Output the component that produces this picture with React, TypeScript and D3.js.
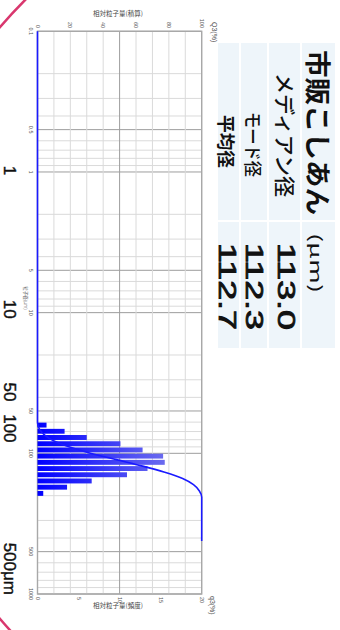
import * as d3 from 'd3'

// particle size axis (log)
const sizeTicks = [0.1, 0.5, 1, 5, 10, 50, 100, 500, 1000]
const sizeLabels = ['0.1', '0.5', '1', '5', '10', '50', '100', '500', '1000']
const cumTicks = [0, 20, 40, 60, 80, 100]
const freqTicks = [0, 5, 10, 15, 20]

// histogram bins (µm) and frequency q3 (%)
const binEdges = [60.5, 67.0, 74.1, 82.1, 90.9, 100.6, 111.3, 123.3, 136.4, 151.0, 167.2, 185.1, 204.9]
const freq = [1.1, 3.3, 6.0, 10.1, 12.8, 15.3, 15.5, 13.4, 10.9, 6.6, 3.6, 0.7]

// cumulative Q3 (%)
const cumSizes = [0.1, 60.5, 67.0, 74.1, 82.1, 90.9, 100.6, 111.3, 123.3, 136.4, 151.0, 167.2, 185.1, 204.9, 420]
const cumValues = [0, 0, 1.1, 4.4, 10.4, 20.5, 33.3, 48.6, 64.1, 77.5, 88.4, 95.0, 98.6, 100, 100]

// big hand labels under the size axis
const bigLabels = ['1', '10', '50', '100', '500μm']
const bigLabelAt = [1, 10, 50, 100, 500]

// result table
const tableTitle = '市販こしあん'
const tableUnit = '(μm)'
const tableRows = ['メディアン径', 'モード径', '平均径']
const tableValues = ['113.0', '112.3', '112.7']

const W = 630 // landscape frame, rotated onto the 340x630 page
const H = 340

export default function App() {
  const x = d3.scaleLog().domain([0.1, 1000]).range([31.3, 594])
  const yCum = d3.scaleLinear().domain([0, 100]).range([302.5, 138.3])
  const yFreq = d3.scaleLinear().domain([0, 20]).range([302.5, 138.3])

  const minor: number[] = []
  for (let e = -1; e < 3; e++) for (let m = 1; m < 10; m++) minor.push(m * Math.pow(10, e))
  minor.push(1000)

  const line = d3
    .line<number>()
    .x((_, i) => x(cumSizes[i]))
    .y((d) => yCum(d))
    .curve(d3.curveMonotoneX)

  const [x0, x1] = x.range()
  const [yb, yt] = yCum.range()
  const bigDx = [-1.5, -3.5, -19, -25, 0]

  const font = 'Liberation Sans, Arial, sans-serif'
  const jp = '"Noto Sans CJK JP", sans-serif'

  // table geometry (landscape frame)
  const rowBands = [
    [5, 38],
    [40, 71],
    [73, 99],
    [101, 122],
  ]
  const colA = [43, 220]
  const colB = [222, 348]

  return (
    <svg width={340} height={630} style={{ position: 'fixed', left: 0, top: 0, background: '#fff' }}>
      <defs>
        <linearGradient id="barFill" gradientUnits="userSpaceOnUse" x1={0} y1={yb} x2={0} y2={yt}>
          <stop offset="0%" stopColor="#0000ff" />
          <stop offset="100%" stopColor="#8a8aea" />
        </linearGradient>
      </defs>

      {/* pink outline */}
      <circle cx={347} cy={323} r={456} fill="none" stroke="#d9376e" strokeWidth={2.5} />

      {/* axis titles, upright on the page */}
      <text x={118} y={16} textAnchor="middle" fontSize={6.5} fill="#444" fontFamily={jp}>
        相対粒子量(積算)
      </text>
      <text x={118} y={608} textAnchor="middle" fontSize={6.5} fill="#444" fontFamily={jp}>
        相対粒子量(頻度)
      </text>

      <g transform={`translate(${H},0) rotate(90)`}>
        {/* grid: size direction */}
        {minor.map((v) => {
          const lead = Math.round(v / Math.pow(10, Math.floor(Math.log10(v) + 1e-9)))
          const major = lead === 1 || lead === 5
          return (
            <line
              key={'s' + v}
              x1={x(v)}
              x2={x(v)}
              y1={yt}
              y2={yb}
              stroke={major ? '#9d9d9d' : '#dadada'}
              strokeWidth={1}
            />
          )
        })}
        {/* grid: percent direction */}
        {d3.range(0, 101, 10).map((v) => (
          <line
            key={'p' + v}
            x1={x0}
            x2={x1}
            y1={yCum(v)}
            y2={yCum(v)}
            stroke={v === 50 ? '#9d9d9d' : '#dadada'}
            strokeWidth={1}
          />
        ))}
        <rect x={x0} y={yt} width={x1 - x0} height={yb - yt} fill="none" stroke="#a8a8a8" strokeWidth={1.4} />

        {/* frequency bars */}
        {freq.map((f, i) => (
          <rect
            key={'b' + i}
            x={x(binEdges[i])}
            width={x(binEdges[i + 1]) - x(binEdges[i]) - 1.3}
            y={yFreq(f)}
            height={yb - yFreq(f)}
            fill="url(#barFill)"
          />
        ))}

        {/* cumulative curve */}
        <path d={line(cumValues) || ''} fill="none" stroke="#1a1aff" strokeWidth={1.6} />

        {/* tick labels */}
        {sizeTicks.map((v, i) => (
          <text key={'st' + v} x={x(v)} y={311.5} textAnchor="middle" fontSize={5.5} fill="#555" fontFamily={font}>
            {sizeLabels[i]}
          </text>
        ))}
        <text x={298} y={316} textAnchor="middle" fontSize={4.5} fill="#555" fontFamily={jp}>
          粒子径(μm)
        </text>
        {cumTicks.map((v) => (
          <text
            key={'ct' + v}
            x={28}
            y={yCum(v)}
            textAnchor="end"
            dominantBaseline="central"
            fontSize={5.5}
            fill="#555"
            fontFamily={font}
          >
            {v}
          </text>
        ))}
        {freqTicks.map((v) => (
          <text
            key={'ft' + v}
            x={597}
            y={yFreq(v)}
            dominantBaseline="central"
            fontSize={5.5}
            fill="#555"
            fontFamily={font}
          >
            {v}
          </text>
        ))}
        <text x={22} y={128} fontSize={7} fill="#555" fontFamily={font}>
          Q3(%)
        </text>
        <text x={596} y={130} fontSize={7} fill="#555" fontFamily={font}>
          q3(%)
        </text>

        {/* big labels */}
        {bigLabels.map((t, i) => (
          <text
            key={'bl' + i}
            x={x(bigLabelAt[i]) + bigDx[i]}
            y={336.5}
            textAnchor={i === 4 ? 'start' : 'middle'}
            dx={i === 4 ? -9 : 0}
            fontSize={17}
            fill="#111"
            stroke="#111"
            strokeWidth={0.4}
            fontFamily={font}
          >
            {t}
          </text>
        ))}

        {/* result table */}
        {rowBands.map(([a, b], r) => (
          <g key={'row' + r}>
            <rect x={colA[0]} y={a} width={colA[1] - colA[0]} height={b - a} fill="#eef5fa" />
            <rect x={colB[0]} y={a} width={colB[1] - colB[0]} height={b - a} fill="#eef5fa" />
          </g>
        ))}
        <text
          x={50}
          y={20.5}
          dominantBaseline="central"
          fontSize={26}
          fontWeight="bold"
          textLength={165}
          lengthAdjust="spacingAndGlyphs"
          fontFamily={jp}
          fill="#111"
        >
          {tableTitle}
        </text>
        <text
          x={233}
          y={23}
          dominantBaseline="central"
          fontSize={16}
          textLength={60}
          lengthAdjust="spacingAndGlyphs"
          fontFamily={jp}
          fill="#111"
        >
          {tableUnit}
        </text>
        {tableRows.map((t, i) => {
          const cy = [54.5, 86, 113][i]
          const sx = [73, 112, 115][i]
          const len = [124, 65, 53][i]
          const fs = [21, 18, 18][i]
          return (
            <g key={'tr' + i}>
              <text
                x={sx}
                y={cy}
                dominantBaseline="central"
                fontSize={fs}
                fontWeight={i === 2 ? 'bold' : 500}
                textLength={len}
                lengthAdjust="spacingAndGlyphs"
                fontFamily={jp}
                fill="#111"
              >
                {t}
              </text>
              <text
                x={243}
                y={cy}
                dominantBaseline="central"
                fontSize={23}
                textLength={87}
                lengthAdjust="spacingAndGlyphs"
                fontFamily={font}
                fill="#111"
                stroke="#111"
                strokeWidth={0.8}
              >
                {tableValues[i]}
              </text>
            </g>
          )
        })}
      </g>
    </svg>
  )
}
